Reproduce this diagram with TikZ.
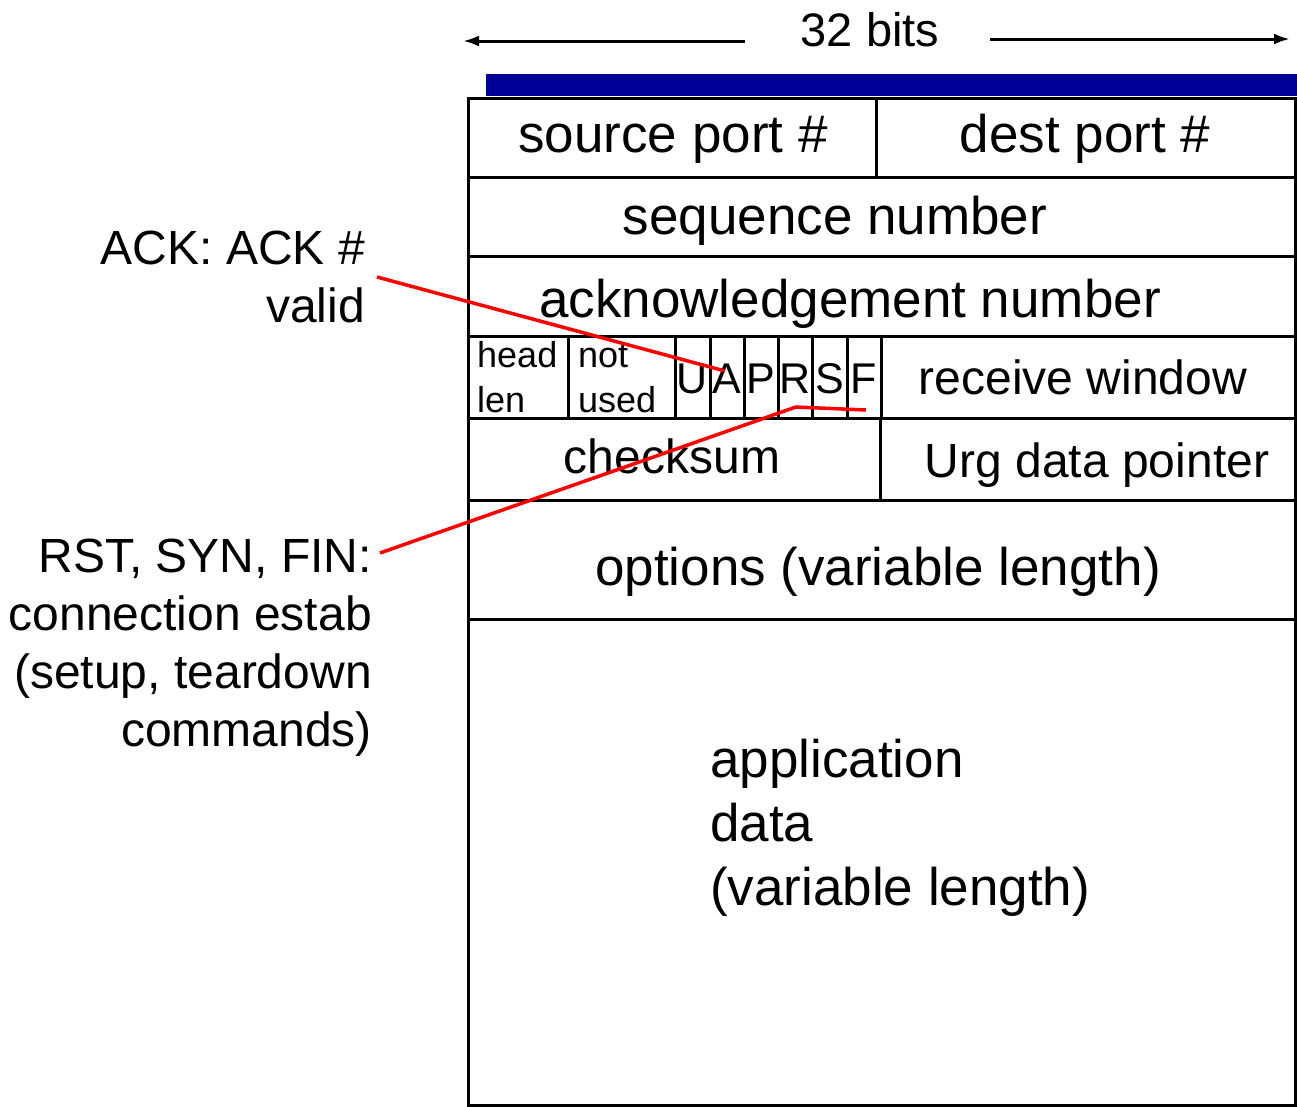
\documentclass[tikz,border=0pt]{standalone}
\usepackage{fontspec}
\setmainfont{Liberation Sans}
\usetikzlibrary{arrows.meta}
\definecolor{barblue}{RGB}{0,0,153}
\definecolor{callred}{RGB}{255,0,0}
\begin{document}
\begin{tikzpicture}[x=1pt,y=-1pt,
  grid/.style={line width=3pt,black},
  field/.style={font=\fontsize{53}{64}\selectfont,anchor=base,inner sep=0pt},
  midfield/.style={font=\fontsize{48}{58}\selectfont,anchor=base,inner sep=0pt},
  small/.style={font=\fontsize{36}{45}\selectfont,anchor=base west,inner sep=0pt},
  flag/.style={font=\fontsize{43}{50}\selectfont,anchor=base,inner sep=0pt},
  side/.style={font=\fontsize{48}{58}\selectfont,align=right,anchor=north east,inner sep=0pt},
  callout/.style={line width=3.5pt,callred},
  bitsarrow/.style={line width=3pt,-{Latex[length=16pt,width=11pt]}}]
\useasboundingbox (0,0) rectangle (1297,1106);
% blue bar
\fill[barblue] (486,74) rectangle (1297,96);
% 32 bits
\node[font=\fontsize{47}{57}\selectfont,anchor=base,inner sep=0pt] (bits) at (870,46) {32 bits};
\coordinate (lstart) at (745,41);
\coordinate (lend) at (463,41);
\coordinate (rstart) at (990,39);
\coordinate (rend) at (1290,39);
\draw[bitsarrow] (lstart) -- (lend);
\draw[bitsarrow] (rstart) -- (rend);
% outer box and rows
\draw[grid] (468,98) rectangle (1295.5,1105);
\foreach \yy in {177,256,336,418,500,619}
  \draw[grid] (468,\yy) -- (1295.5,\yy);
\draw[grid] (876,98) -- (876,177);
\foreach \xx in {568,675,710,744,778,812,847,881}
  \draw[grid] (\xx,336) -- (\xx,418);
\draw[grid] (880,418) -- (880,500);
% field texts
\node[field] (src) at (673,152) {source port \#};
\node[field] (dst) at (1085,152) {dest port \#};
\node[field] (seq) at (835,234) {sequence number};
\node[field] (ackn) at (850,317) {acknowledgement number};
\node[small] (head) at (477,367) {head};
\node[small] (len) at (477,412) {len};
\node[small] (not) at (578,367) {not};
\node[small] (used) at (578,412) {used};
\node[flag] (U) at (692.5,393) {U};
\node[flag] (A) at (727,393) {A};
\node[flag] (P) at (761,393) {P};
\node[flag] (R) at (795,393) {R};
\node[flag] (S) at (829.5,393) {S};
\node[flag] (F) at (864,393) {F};
\node[midfield] (rwin) at (1083,394) {receive window};
\node[midfield] (csum) at (672,473) {checksum};
\node[midfield] (urg) at (1097,477) {Urg data pointer};
\node[field] (opts) at (878,585) {options (variable length)};
\node[font=\fontsize{53}{64}\selectfont,align=left,anchor=north west,inner sep=0pt] (app) at (710,739) {application\\data\\(variable length)};
% side labels
\node[side] (ack) at (365,231) {ACK: ACK \#\\valid};
\node[side] (rst) at (372,539) {RST, SYN, FIN:\\connection estab\\(setup, teardown\\commands)};
% callouts
\coordinate (ackend) at (725,371);
\coordinate (rstbend) at (796,407);
\coordinate (rstend) at (866,410);
\draw[callout] ([shift={(12,46)}]ack.north east) -- (ackend);
\draw[callout] ([shift={(8,14)}]rst.north east) -- (rstbend) -- (rstend);
\end{tikzpicture}
\end{document}
